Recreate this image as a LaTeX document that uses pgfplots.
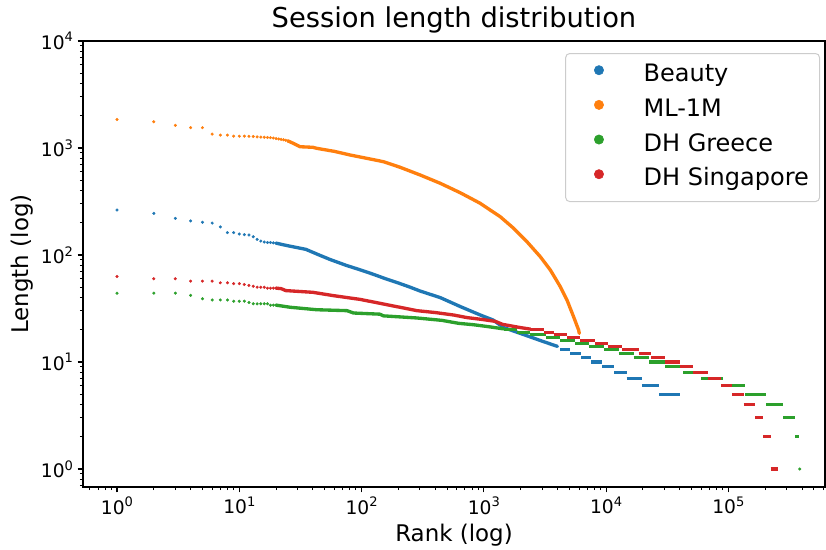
\documentclass[border=0pt]{standalone}
\usepackage{fontspec}
\setmainfont{DejaVu Sans}
\usepackage{pgfplots}
\pgfplotsset{compat=1.18}
\definecolor{cB}{HTML}{1F77B4}
\definecolor{cO}{HTML}{FF7F0E}
\definecolor{cG}{HTML}{2CA02C}
\definecolor{cR}{HTML}{D62728}
\newcommand{\tl}[1]{10\raisebox{5.5pt}{\fontsize{9.8pt}{10pt}\selectfont #1}}
\begin{document}
\begin{tikzpicture}
\begin{axis}[
  xmode=log, ymode=log,
  scale only axis, width=556.5pt, height=334.5pt,
  xmin=0.527, xmax=6.17e5, ymin=0.679, ymax=1e4,
  xtick={1,10,100,1000,10000,100000},
  xticklabels={\tl{0},\tl{1},\tl{2},\tl{3},\tl{4},\tl{5}},
  ytick={1,10,100,1000,10000},
  yticklabels={\tl{0},\tl{1},\tl{2},\tl{3},\tl{4}},
  minor xtick={0.6,0.7,0.8,0.9,2,3,4,5,6,7,8,9,20,30,40,50,60,70,80,90,200,300,400,500,600,700,800,900,2000,3000,4000,5000,6000,7000,8000,9000,20000,30000,40000,50000,60000,70000,80000,90000,200000,300000,400000,500000,600000},
  minor ytick={0.7,0.8,0.9,2,3,4,5,6,7,8,9,20,30,40,50,60,70,80,90,200,300,400,500,600,700,800,900,2000,3000,4000,5000,6000,7000,8000,9000},
  tick align=outside, tick pos=left,
  major tick length=4pt, minor tick length=2.4pt,
  every major tick/.style={black, line width=0.9pt},
  every minor tick/.style={black, line width=0.7pt},
  axis line style={line width=0.9pt},
  tick label style={font=\fontsize{14pt}{16pt}\selectfont},
  legend image code/.code={\path (0pt,0pt); \draw[#1] plot coordinates {(16.75pt,4pt)};},
  legend style={at={(0.9933,0.973)}, anchor=north east, draw=black!20, line width=0.75pt,
    rounded corners=3pt, font=\fontsize{18pt}{21pt}\selectfont,
    inner xsep=8pt, inner ysep=7.75pt, row sep=8.5pt,
    nodes={inner sep=0pt, text height=13.5pt, text depth=4pt},
    /tikz/every odd column/.append style={column sep=30pt}},
  legend cell align=left,
  mk/.style={#1, only marks, mark=*, mark size=1pt, line width=0.3pt, forget plot},
  ln/.style={#1, line width=2.5pt, line join=round, line cap=round, mark=none, forget plot},
  st/.style={#1, line width=2.3pt, line cap=butt, mark=none, unbounded coords=jump, forget plot},
]
\addlegendimage{cB, mark=*, mark size=3.5pt, line width=0.4pt}
\addlegendimage{cO, mark=*, mark size=3.5pt, line width=0.4pt}
\addlegendimage{cG, mark=*, mark size=3.5pt, line width=0.4pt}
\addlegendimage{cR, mark=*, mark size=3.5pt, line width=0.4pt}
\legend{Beauty, ML-1M, DH Greece, DH Singapore}

% ---------------- Beauty ----------------
\addplot[mk=cB] table[row sep=\\] {x y\\ 1 263\\ 2 245\\ 3 220\\ 4 208\\ 5 202\\ 6 199\\ 7 183\\ 8 162\\ 9 162\\ 10 157\\ 11 155\\ 12 154\\ 13 148\\ 14 140\\ 15 135\\ 16 132\\ 17 131\\ 18 131\\ 19 130\\ 20 129\\};
\addplot[ln=cB] table[row sep=\\] {x y\\ 20 129\\ 25 122\\ 35 113\\ 45 100\\ 55 91\\ 75 80\\ 100 72\\ 125 66\\ 151 61\\ 207 54\\ 250 50\\ 302 46\\ 440 40\\ 641 33\\ 935 27.5\\ 1190 24.7\\ 1450 21\\ 2130 18\\ 3080 15.5\\ 4000 14\\};
\addplot[st=cB] table[row sep=\\] {x y\\ 4220 13\\ 5100 13\\ nan nan\\ 5100 12\\ 6250 12\\ nan nan\\ 6250 11\\ 7550 11\\ nan nan\\ 7550 10\\ 9250 10\\ nan nan\\ 9250 9\\ 11650 9\\ nan nan\\ 11650 8\\ 14700 8\\ nan nan\\ 14700 7\\ 19650 7\\ nan nan\\ 19650 6\\ 27100 6\\ nan nan\\ 27100 5\\ 40000 5\\};

% ---------------- ML-1M ----------------
\addplot[mk=cO] table[row sep=\\] {x y\\ 1 1850\\ 2 1760\\ 3 1630\\ 4 1550\\ 5 1550\\ 6 1350\\ 7 1320\\ 8 1320\\ 9 1290\\ 10 1290\\ 11 1290\\ 12 1285\\ 13 1280\\ 14 1270\\ 15 1265\\ 16 1260\\ 17 1255\\ 18 1250\\ 19 1240\\ 20 1225\\ 21 1215\\ 22 1205\\ 23 1195\\ 24 1180\\ 25 1165\\};
\addplot[ln=cO] table[row sep=\\] {x y\\ 25 1165\\ 27.6 1107\\ 31.4 1028\\ 40 1015\\ 43 993\\ 60 930\\ 80.7 860\\ 151 745\\ 207 660\\ 302 559\\ 440 468\\ 641 382\\ 935 304\\ 1128 263\\ 1362 228\\ 1750 178\\ 2254 133\\ 2896 96.4\\ 3500 72.4\\ 4220 50.6\\ 4786 38\\ 5420 26.5\\ 5960 19.9\\ 6040 18.5\\};

% ---------------- DH Greece ----------------
\addplot[mk=cG] table[row sep=\\] {x y\\ 1 44\\ 2 44\\ 3 44\\ 4 42\\ 5 39\\ 6 38\\ 7 38\\ 8 38\\ 9 37\\ 10 37\\ 11 37\\ 12 36\\ 13 35\\ 14 35\\ 15 35\\ 16 35\\ 17 35\\ 18 34\\ 19 34\\ 20 34\\};
\addplot[ln=cG] table[row sep=\\] {x y\\ 20 34\\ 26 32.5\\ 43 30.8\\ 76 30.2\\ 86 28.7\\ 141 28\\ 151 27\\ 283 25.8\\ 455 24.5\\ 620 23\\ 825 22.3\\ 1090 21.4\\ 1450 20.4\\};
\addplot[st=cG] table[row sep=\\] {x y\\ 1450 20\\ 1860 20\\ nan nan\\ 1860 19\\ 2400 19\\ nan nan\\ 2400 18\\ 3200 18\\ nan nan\\ 3200 17\\ 4220 17\\ nan nan\\ 4220 16\\ 5600 16\\ nan nan\\ 5600 15\\ 7200 15\\ nan nan\\ 7200 14\\ 9540 14\\ nan nan\\ 9540 13\\ 12650 13\\ nan nan\\ 12650 12\\ 16800 12\\ nan nan\\ 16800 11\\ 22600 11\\ nan nan\\ 22600 10\\ 30500 10\\ nan nan\\ 30500 9\\ 42600 9\\ nan nan\\ 42600 8\\ 59800 8\\ nan nan\\ 59800 7\\ 90500 7\\ nan nan\\ 90500 6\\ 137700 6\\ nan nan\\ 137700 5\\ 203400 5\\ nan nan\\ 203400 4\\ 280500 4\\ nan nan\\ 280500 3\\ 353300 3\\ nan nan\\ 353300 2\\ 376000 2\\};
\addplot[mk=cG] table[row sep=\\] {x y\\ 383000 1\\};

% ---------------- DH Singapore ----------------
\addplot[mk=cR] table[row sep=\\] {x y\\ 1 63\\ 2 60\\ 3 60\\ 4 57\\ 5 57\\ 6 57\\ 7 55\\ 8 55\\ 9 54\\ 10 54\\ 11 53\\ 12 52\\ 13 51\\ 14 50\\ 15 50\\ 16 50\\ 17 49\\ 18 49\\ 19 49\\ 20 49\\};
\addplot[ln=cR] table[row sep=\\] {x y\\ 20 49\\ 22 48.5\\ 24 46.5\\ 40 44.8\\ 59 41.7\\ 97 38.5\\ 141 35.4\\ 283 30.2\\ 400 29\\ 565 27.5\\ 730 26\\ 965 25\\ 1240 24\\ 1420 22.5\\ 1980 21\\ 2400 20.3\\};
\addplot[st=cR] table[row sep=\\] {x y\\ 2400 20\\ 3080 20\\ nan nan\\ 3080 19\\ 3720 19\\ nan nan\\ 3720 18\\ 4780 18\\ nan nan\\ 4780 17\\ 6150 17\\ nan nan\\ 6150 16\\ 8100 16\\ nan nan\\ 8100 15\\ 10300 15\\ nan nan\\ 10300 14\\ 13500 14\\ nan nan\\ 13500 13\\ 18450 13\\ nan nan\\ 18450 12\\ 23300 12\\ nan nan\\ 23300 11\\ 30500 11\\ nan nan\\ 30500 10\\ 40000 10\\ nan nan\\ 40000 9\\ 51500 9\\ nan nan\\ 51500 8\\ 67500 8\\ nan nan\\ 67500 7\\ 86800 7\\ nan nan\\ 86800 6\\ 107000 6\\ nan nan\\ 107000 5\\ 133500 5\\ nan nan\\ 133500 4\\ 165300 4\\ nan nan\\ 165300 3\\ 193400 3\\ nan nan\\ 193400 2\\ 222000 2\\ nan nan\\ 222000 1\\ 256000 1\\};
\end{axis}
\path (current axis.north) ++(0,15.75pt) node[font=\fontsize{20.5pt}{24pt}\selectfont] {Session length distribution};
\path (current axis.south) ++(0,-36pt) node[font=\fontsize{17.2pt}{20pt}\selectfont] {Rank (log)};
\path (current axis.west) ++(-45.75pt,0) node[rotate=90, font=\fontsize{17.2pt}{20pt}\selectfont] {Length (log)};
\pgfresetboundingbox
\path[use as bounding box] ([shift={(-62.25pt,-46.5pt)}]current axis.south west) rectangle ([shift={(0.75pt,30.75pt)}]current axis.north east);
\end{tikzpicture}
\end{document}
